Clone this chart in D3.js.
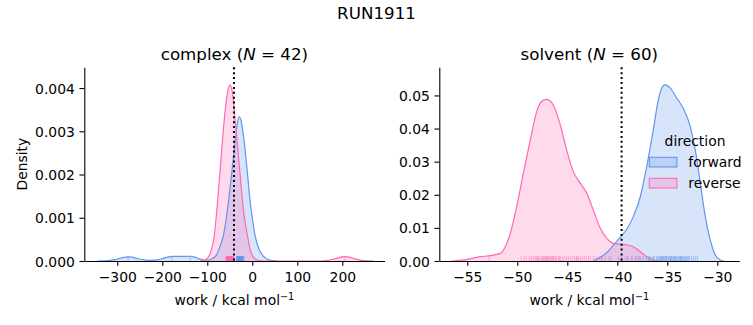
<!DOCTYPE html>
<html>
<head>
<meta charset="utf-8">
<script src="https://cdn.jsdelivr.net/npm/d3@7"></script>
<style>
  html, body { margin: 0; padding: 0; background: #fff; }
  svg { display: block; font-family: "DejaVu Sans", sans-serif; }
</style>
</head>
<body>
<svg id="chart" width="753" height="325"></svg>
<script>
// ---------------- data ----------------
const directions = ["forward", "reverse"];
const directionColors = ["#6495ED", "#FF69B4"];

const suptitle = "RUN1911";
const panelNames = ["complex", "solvent"];
const panelN = [42, 60];

// complex panel: KDE curves [work, density]
const complexForwardCurve = [
  [-345,0],[-330,0.000005],[-320,0.000012],[-305,0.00003],[-295,0.00006],[-285,0.000085],
  [-276,0.000095],[-267,0.000088],[-258,0.000065],[-248,0.00004],[-238,0.000022],[-228,0.000015],
  [-218,0.000018],[-208,0.000032],[-198,0.00006],[-188,0.00009],[-178,0.000105],[-168,0.000108],
  [-158,0.000105],[-148,0.000108],[-138,0.00011],[-128,0.00009],[-118,0.00005],[-108,0.000022],
  [-98,0.00002],[-90,0.00005],[-80,0.00013],[-72,0.00033],[-64,0.0006],[-55,0.0012],[-46,0.002],
  [-38,0.00276],[-33,0.0032],[-29,0.00334],[-24,0.0032],[-18,0.00276],[-11,0.00205],[-5,0.0014],
  [0,0.001],[6,0.0006],[15,0.00027],[24,0.00012],[35,0.000035],[45,0.000008],[55,0]
];
const complexReverseCurve = [
  [-115,0],[-108,0.00001],[-100,0.00006],[-92,0.00022],[-85,0.00055],[-79,0.00115],[-73,0.0019],
  [-67,0.0027],[-60,0.0035],[-55,0.0039],[-49.6,0.00407],[-45,0.00395],[-41,0.0036],[-34,0.0028],
  [-27,0.002],[-20,0.0012],[-11,0.0006],[-3,0.0002],[5,0.00006],[15,0.00001],[25,0],[150,0],
  [160,0.000006],[170,0.000018],[180,0.000041],[190,0.000072],[200,0.000095],[206,0.0001],
  [212,0.000097],[220,0.000077],[230,0.000047],[240,0.000022],[250,0.000008],[262,0.000001],[270,0]
];
// solvent panel curves
const solventForwardCurve = [
  [-42.4,0],[-41.7,0.0011],[-41.06,0.0025],[-40.4,0.0047],[-39.7,0.0072],[-39.06,0.0096],
  [-38.4,0.0134],[-37.7,0.0194],[-37.06,0.0285],[-36.4,0.0396],[-35.9,0.0486],[-35.56,0.0522],
  [-35.23,0.0532],[-34.7,0.0522],[-34.06,0.0492],[-33.4,0.0461],[-32.7,0.0406],[-32.2,0.0335],
  [-31.7,0.0235],[-31.2,0.0134],[-30.7,0.0063],[-30.2,0.0018],[-29.7,0.0003],[-29.3,0]
];
const solventReverseCurve = [
  [-56.6,0],[-55,0.0005],[-53.7,0.0013],[-52.7,0.0016],[-51.7,0.0023],[-51.2,0.0043],[-50.7,0.0084],
  [-50.06,0.0164],[-49.4,0.0265],[-48.7,0.0366],[-48.06,0.0451],[-47.6,0.0481],[-47.06,0.0488],
  [-46.4,0.0471],[-45.7,0.0411],[-45.06,0.0335],[-44.4,0.027],[-43.7,0.0235],[-43.06,0.0205],
  [-42.4,0.0154],[-41.7,0.0099],[-41.06,0.0069],[-40.4,0.0053],[-39.7,0.0051],[-39.06,0.0049],
  [-38.4,0.0043],[-37.7,0.0028],[-37.06,0.0013],[-36.4,0.0003],[-35.7,0]
];

// rug samples (work values)
const complexForwardRug = [-276,-178,-138,-35,-34.5,-34,-33.5,-33,-32.6,-32.2,-31.8,-31.4,-31,-30.6,
  -30.2,-29.8,-29.4,-29,-28.6,-28.2,-27.8,-27.4,-27,-26.6,-26.2,-25.8,-25.4,-25,-24.5,-24,-23.5,-23,
  -22.4,-21.8,-21.2,-20.6,-20,-19.4,-18.8,-30.4,-28.4,-26.4];
const complexReverseRug = [-58.4,-57.6,-57,-56.3,-55.8,-55.2,-54.7,-54.3,-53.9,-53.5,-53.1,-52.7,-52.3,
  -51.9,-51.5,-51.1,-50.8,-50.4,-50,-49.6,-49.2,-48.8,-48.4,-48,-47.6,-47.2,-46.8,-46.4,-46,-45.6,
  -45.2,-44.8,-44.2,-43.6,-43,-42.4,-41.8,-41.2,-55.5,-52,-49.9,206];
const solventForwardRug = [-41.6,-40.8,-39.9,-39.0,-38.5,-38.1,-37.7,-37.4,-37.1,-36.9,-36.7,-36.5,
  -36.3,-36.1,-35.9,-35.8,-35.7,-35.6,-35.5,-35.4,-35.3,-35.2,-35.1,-35.0,-34.9,-34.8,-34.7,-34.6,
  -34.5,-34.4,-34.3,-34.2,-34.1,-34.0,-33.9,-33.8,-33.7,-33.6,-33.5,-33.4,-33.3,-33.2,-33.1,-33.0,
  -32.9,-32.8,-32.6,-32.4,-32.2,-32.0,-35.65,-35.15,-34.65,-36.0,-36.4,-33.65,-34.25,-37.9,-36.8,-35.45];
const solventReverseRug = [-52.8,-49.6,-49.3,-49.1,-48.8,-48.6,-48.4,-48.2,-48.1,-47.9,-47.8,-47.6,
  -47.5,-47.4,-47.3,-47.2,-47.1,-47.0,-46.9,-46.8,-46.7,-46.6,-46.5,-46.4,-46.2,-46.1,-45.9,-45.7,
  -45.5,-45.3,-45.1,-44.9,-44.7,-44.5,-44.3,-44.1,-43.9,-43.7,-43.5,-43.3,-43.1,-42.9,-42.7,-42.4,
  -42.1,-41.8,-41.5,-41.2,-40.6,-39.6,-39.2,-38.9,-38.6,-38.2,-37.8,-45.8,-47.05,-48.0,-46.35,-44.0];

// reference (dotted) lines
const refLines = [-40.7, -39.57];

// axes domains and ticks
const complexXDomain = [-373.3, 293.8];
const complexYDomain = [0, 0.00448];
const solventXDomain = [-57.8, -27.8];
const solventYDomain = [0, 0.0585];
const complexXTicks = [-300, -200, -100, 0, 100, 200];
const complexYTicks = [0, 0.001, 0.002, 0.003, 0.004];
const solventXTicks = [-55, -50, -45, -40, -35, -30];
const solventYTicks = [0, 0.01, 0.02, 0.03, 0.04, 0.05];

// ---------------- drawing ----------------
const svg = d3.select("#chart");
svg.append("rect").attr("width", 753).attr("height", 325).attr("fill", "#fff");

const FS = 13.9, TFS = 16.7;
const axTop = 67.3, axBottom = 261;

svg.append("text").attr("x", 376.5).attr("y", 19).attr("text-anchor", "middle")
  .attr("font-size", TFS).text(suptitle);

const panels = [
  { left: 84.3, right: 384.5, xd: complexXDomain, yd: complexYDomain, xt: complexXTicks, yt: complexYTicks,
    yfmt: ".3f", curves: [complexForwardCurve, complexReverseCurve], rugs: [complexForwardRug, complexReverseRug],
    ref: refLines[0], ylabel: true },
  { left: 439.3, right: 739.3, xd: solventXDomain, yd: solventYDomain, xt: solventXTicks, yt: solventYTicks,
    yfmt: ".2f", curves: [solventForwardCurve, solventReverseCurve], rugs: [solventForwardRug, solventReverseRug],
    ref: refLines[1], ylabel: false }
];

const minus = s => s.replace(/-/g, "\u2212");

panels.forEach((p, i) => {
  const x = d3.scaleLinear().domain(p.xd).range([p.left, p.right]);
  const y = d3.scaleLinear().domain(p.yd).range([axBottom, axTop]);
  const g = svg.append("g");

  const area = d3.area().x(d => x(d[0])).y0(y(0)).y1(d => y(d[1])).curve(d3.curveMonotoneX);
  const line = d3.line().x(d => x(d[0])).y(d => y(d[1])).curve(d3.curveMonotoneX);

  p.curves.forEach((c, k) => {
    g.append("path").attr("d", area(c)).attr("fill", directionColors[k]).attr("fill-opacity", 0.25);
  });
  p.curves.forEach((c, k) => {
    g.append("path").attr("d", line(c)).attr("fill", "none").attr("stroke", directionColors[k])
      .attr("stroke-width", 1.2);
  });

  // rugs
  const rugH = 0.025 * (axBottom - axTop);
  p.rugs.forEach((r, k) => {
    g.selectAll(null).data(r).enter().append("line")
      .attr("x1", d => x(d)).attr("x2", d => x(d))
      .attr("y1", axBottom).attr("y2", axBottom - rugH)
      .attr("stroke", directionColors[k]).attr("stroke-width", 1).attr("stroke-opacity", 0.5);
  });

  // reference line
  g.append("line").attr("x1", x(p.ref)).attr("x2", x(p.ref)).attr("y1", axTop).attr("y2", axBottom)
    .attr("stroke", "#000").attr("stroke-width", 2).attr("stroke-dasharray", "2,2.9");

  // axes
  const xa = g.append("g").attr("transform", `translate(0,${axBottom})`)
    .call(d3.axisBottom(x).tickValues(p.xt).tickSize(4.86).tickSizeOuter(0).tickFormat(d => minus(String(d))));
  xa.selectAll("text").attr("y", 21).attr("dy", null).attr("font-size", FS)
    .attr("font-family", "DejaVu Sans").attr("fill", "#000");
  const ya = g.append("g").attr("transform", `translate(${p.left},0)`)
    .call(d3.axisLeft(y).tickValues(p.yt).tickSize(4.86).tickSizeOuter(0).tickPadding(4.6).tickFormat(d3.format(p.yfmt)));
  ya.selectAll("text").attr("font-size", FS).attr("font-family", "DejaVu Sans").attr("fill", "#000").attr("dy", "0.36em");
  [xa, ya].forEach(a => {
    a.select(".domain").attr("stroke", "#000").attr("stroke-width", 1.1);
    a.selectAll(".tick line").attr("stroke", "#000").attr("stroke-width", 1.1);
  });

  // panel title
  const cx = (p.left + p.right) / 2;
  const t = g.append("text").attr("x", cx).attr("y", 59.5).attr("text-anchor", "middle").attr("font-size", TFS);
  t.append("tspan").text(panelNames[i] + " (");
  t.append("tspan").attr("font-style", "italic").text("N");
  t.append("tspan").text(" = " + panelN[i] + ")");

  // x label
  const xl = g.append("text").attr("x", cx).attr("y", 305).attr("text-anchor", "middle").attr("font-size", FS);
  xl.append("tspan").text("work / kcal mol");
  xl.append("tspan").attr("font-size", 9.7).attr("dy", -5.5).text("\u22121");

  if (p.ylabel) {
    g.append("text").attr("transform", `translate(26.5,${(axTop + axBottom) / 2}) rotate(-90)`)
      .attr("text-anchor", "middle").attr("font-size", FS).text("Density");
  }
});

// legend
const lg = svg.append("g");
lg.append("text").attr("x", 695).attr("y", 146).attr("text-anchor", "middle").attr("font-size", FS).text("direction");
directions.forEach((dname, k) => {
  const yy = 157.3 + k * 21;
  lg.append("rect").attr("x", 649.3).attr("y", yy).attr("width", 27.6).attr("height", 9.7)
    .attr("fill", directionColors[k]).attr("fill-opacity", 0.25)
    .attr("stroke", directionColors[k]).attr("stroke-width", 1.1);
  lg.append("text").attr("x", 688.3).attr("y", yy + 9.8).attr("font-size", FS).text(dname);
});
</script>
</body>
</html>
